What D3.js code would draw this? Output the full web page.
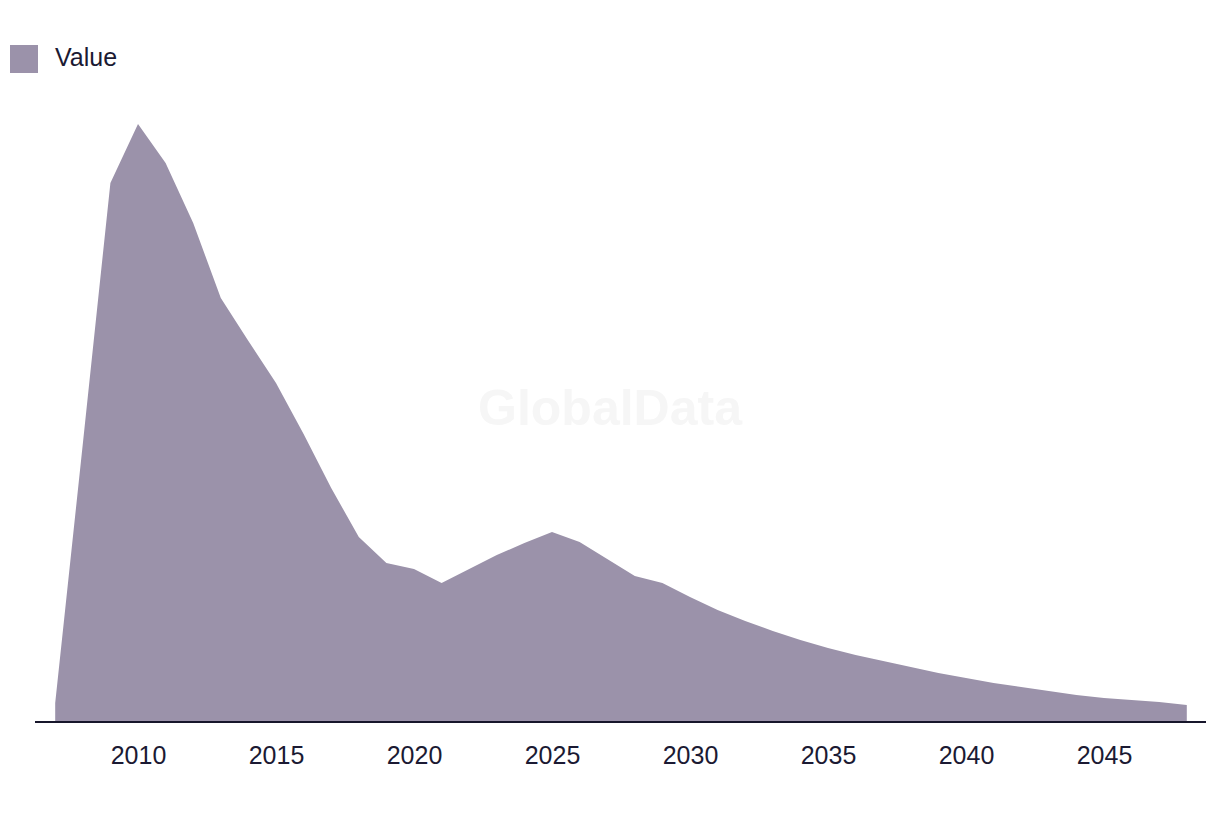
<!DOCTYPE html>
<html>
<head>
<meta charset="utf-8">
<script src="https://cdn.jsdelivr.net/npm/d3@7"></script>
<style>
  html, body { margin: 0; padding: 0; background: #ffffff; }
  svg { display: block; }
  text { font-family: "Liberation Sans", Arial, sans-serif; }
</style>
</head>
<body>
<svg id="chart" width="1220" height="814"></svg>
<script>
const years = [2007,2008,2009,2010,2011,2012,2013,2014,2015,2016,2017,2018,2019,2020,2021,2022,2023,2024,2025,2026,2027,2028,2029,2030,2031,2032,2033,2034,2035,2036,2037,2038,2039,2040,2041,2042,2043,2044,2045,2046,2047,2048];
const values = [19,278,539,598,559,499,424,381,339,288,234,185,159,153,139,153,167,179,190,180,163,146,139,125,112,101,91,82,74,67,61,55,49,44,39,35,31,27,24,22,20,17];
const tickYears = [2010,2015,2020,2025,2030,2035,2040,2045];
const seriesName = "Value";
const fillColor = "#9b92aa";
const textColor = "#1b1a33";

const svg = d3.select("#chart");
const x = d3.scaleLinear().domain([2007, 2048]).range([55.2, 1186.8]);
const y = d3.scaleLinear().domain([0, 600]).range([722, 122]);

// watermark
svg.append("text")
  .attr("x", 610).attr("y", 425)
  .attr("text-anchor", "middle")
  .attr("font-size", 50).attr("font-weight", "bold")
  .attr("fill", "#f6f6f6")
  .text("GlobalData");

const data = years.map((yr, i) => ({ yr, v: values[i] }));
const area = d3.area()
  .x(d => x(d.yr))
  .y0(y(0))
  .y1(d => y(d.v))
  .curve(d3.curveLinear);

svg.append("path")
  .datum(data)
  .attr("d", area)
  .attr("fill", fillColor);

// axis line
svg.append("line")
  .attr("x1", 35).attr("x2", 1206)
  .attr("y1", y(0)).attr("y2", y(0))
  .attr("stroke", "#17162b").attr("stroke-width", 2);

const axis = d3.axisBottom(x).tickValues(tickYears).tickFormat(d3.format("d")).tickSize(0).tickPadding(0);
const gAxis = svg.append("g").attr("transform", `translate(0, ${y(0)})`).call(axis);
gAxis.select(".domain").remove();
gAxis.selectAll("text")
  .attr("dy", null)
  .attr("y", 42)
  .attr("font-size", 25)
  .attr("font-family", "\"Liberation Sans\", Arial, sans-serif")
  .attr("fill", textColor);

// legend
svg.append("rect").attr("x", 10).attr("y", 45).attr("width", 28).attr("height", 28).attr("fill", fillColor);
svg.append("text").attr("x", 55).attr("y", 66)
  .attr("font-size", 25).attr("fill", textColor)
  .text(seriesName);
</script>
</body>
</html>
